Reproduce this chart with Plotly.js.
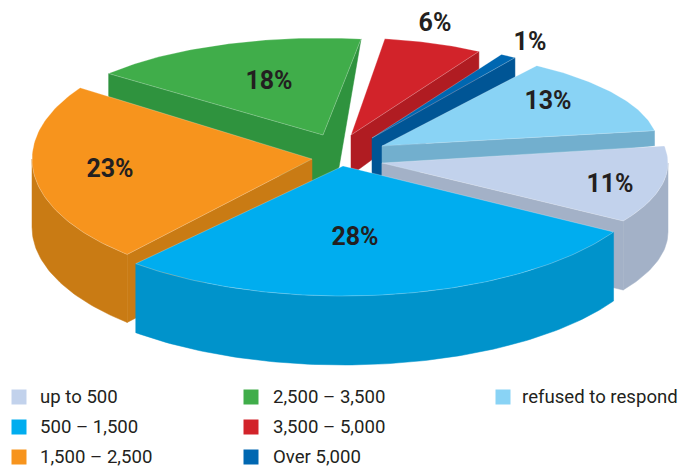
<!DOCTYPE html>
<html>
<head>
<meta charset="utf-8">
<script src="https://cdn.plot.ly/plotly-3.0.1.min.js"></script>
<style>html,body{margin:0;padding:0;background:#fff}#chart{width:694px;height:468px}</style>
</head>
<body>
<div id="chart"></div>
<script>
// ---- data ----
const categories = ["up to 500", "500 – 1,500", "1,500 – 2,500", "2,500 – 3,500", "3,500 – 5,000", "Over 5,000", "refused to respond"];
const shares = [11, 28, 23, 18, 6, 1, 13];

// ---- styling ----
const faceColors = ["#c2d2ec", "#00adef", "#f7941d", "#40ad4a", "#d2232a", "#0067b1", "#89d3f5"];
const wallColors = ["#a3b1c7", "#0093cb", "#c97b14", "#2f933e", "#b01c22", "#005595", "#72afce"];
const startAngle = -9.1;          // degrees, clockwise on screen

// slice-by-slice drawing geometry of the exploded, tilted pie
const fit = [
  {ax:382, ay:163, rx:286, ry:108, n0:0,    n1:2,    rim:69, lab:[610,186]},
  {ax:343, ay:166, rx:314, ry:130, n0:0,    n1:0,    rim:69, lab:[355,239]},
  {ax:312, ay:159, rx:280, ry:127, n0:0,    n1:0,    rim:68, lab:[110,171]},
  {ax:323, ay:135, rx:277, ry:97,  n0:5.2,  n1:-1,   rim:0,  lab:[269,83]},
  {ax:351, ay:135, rx:252, ry:97,  n0:-1.2, n1:0,    rim:0,  lab:[435,25]},
  {ax:372, ay:138, rx:255, ry:97,  n0:0,    n1:0,    rim:0,  lab:[530,44]},
  {ax:382, ay:146, rx:276, ry:97,  n0:0,    n1:0,    rim:0,  lab:[548,103]}
];
const legendCols = [[19, 40], [251, 273], [503, 522]];
const legendRows = [397, 427, 457];
const legendTextDrop = 1;
const painterOrder = [3, 4, 5, 6, 0, 2, 1];
const labelFont = "Roboto, 'Noto Sans', sans-serif";

const rad = d => d * Math.PI / 180;
const total = shares.reduce((a, b) => a + b, 0);
let acc = startAngle;
const spans = shares.map(v => { const a0 = acc; acc += v / total * 360; return [a0, acc]; });

function polar(f, deg) { return [f.ax + f.rx * Math.cos(rad(deg)), f.ay + f.ry * Math.sin(rad(deg))]; }
function arc(f, a0, a1) {
  const n = Math.max(4, Math.ceil(Math.abs(a1 - a0)));
  const pts = [];
  for (let i = 0; i <= n; i++) pts.push(polar(f, a0 + (a1 - a0) * i / n));
  return pts;
}
function poly(pts, fill, line, name) {
  const xs = pts.map(p => p[0]), ys = pts.map(p => p[1]);
  xs.push(xs[0]); ys.push(ys[0]);
  return {type:"scatter", mode:"lines", x:xs, y:ys, fill:"toself", fillcolor:fill,
    line:{color:line, width:line === fill ? 0.5 : 0.7}, name:name, hoverinfo:"name", showlegend:false};
}

const traces = [];
painterOrder.forEach(i => {
  const f = fit[i], a0 = spans[i][0] + f.n0, a1 = spans[i][1] + f.n1;
  const top = arc(f, a0, a1), A = top[0], B = top[top.length - 1], apex = [f.ax, f.ay];
  const down = (p, d) => [p[0], p[1] + d];
  const wall = wallColors[i], name = categories[i];

  if (f.rim) {
    // the outer wall only shows on the near half of the rim (0° to 180°)
    const rimArc = arc(f, Math.max(a0, 0), Math.min(a1, 180));
    traces.push(poly(rimArc.concat(rimArc.slice().reverse().map(p => down(p, f.rim))), wall, wall, name));
  }
  if (i === 0) traces.push(poly([B, apex, down(apex, f.rim), down(B, f.rim)], wall, wall, name));
  if (i === 2) traces.push(poly([A, apex, down(apex, f.rim), down(A, f.rim)], wall, wall, name));
  if (i === 3) traces.push(poly([A, apex, B, [B[0] - 22, B[1] + 128], down(apex, 60), down(A, 24)], wall, wall, name));
  if (i === 4) traces.push(poly([B, apex, down(apex, 40), down(B, 30)], wall, wall, name));
  if (i === 5) traces.push(poly([B, apex, down(apex, 45), down(B, 20)], wall, wall, name));
  if (i === 6) traces.push(poly([B, apex, down(apex, 30), down(B, 15)], wall, wall, name));

  traces.push(poly([apex].concat(top), faceColors[i], "rgba(255,255,255,0.35)", name));
});

// percentage labels
traces.push({type:"scatter", mode:"text", x:fit.map(f => f.lab[0]), y:fit.map(f => f.lab[1]),
  text:shares.map(v => v + "%"), textposition:"middle center", hoverinfo:"skip", showlegend:false,
  textfont:{family:labelFont, size:25, color:"#231f20", weight:700}});

// legend
const legendIdx = [[0,1,2],[3,4,5],[6]];
legendIdx.forEach((col, c) => col.forEach((idx, r) => {
  traces.push({type:"scatter", mode:"markers", x:[legendCols[c][0]], y:[legendRows[r]],
    marker:{symbol:"square", size:15, color:faceColors[idx]}, hoverinfo:"skip", showlegend:false});
  traces.push({type:"scatter", mode:"text", x:[legendCols[c][1]], y:[legendRows[r] + legendTextDrop], text:[categories[idx]],
    textposition:"middle right", hoverinfo:"skip", showlegend:false,
    textfont:{family:labelFont, size:18.6, color:"#231f20"}});
}));

Plotly.newPlot("chart", traces, {
  width:694, height:468, margin:{l:0,r:0,t:0,b:0}, paper_bgcolor:"#fff", plot_bgcolor:"#fff", showlegend:false,
  xaxis:{range:[0,694], visible:false, fixedrange:true},
  yaxis:{range:[468,0], visible:false, fixedrange:true}
}, {displayModeBar:false, staticPlot:true});
</script>
</body>
</html>
